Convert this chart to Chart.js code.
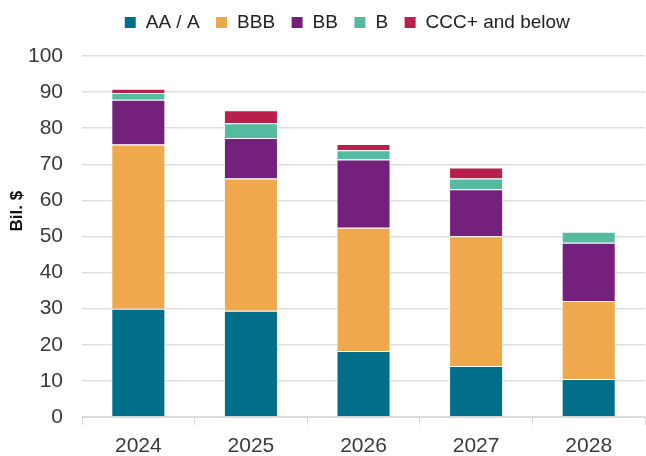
<!DOCTYPE html>
<html>
<head>
<meta charset="utf-8">
<script src="https://cdn.jsdelivr.net/npm/chart.js@4/dist/chart.umd.min.js"></script>
<style>
  html, body { margin: 0; padding: 0; background: #fff; }
  #wrap { width: 646px; height: 456px; }
</style>
</head>
<body>
<div id="wrap"><canvas id="ratingChart"></canvas></div>
<script>
var years = ["2024", "2025", "2026", "2027", "2028"];
var aaValues = [30.0, 29.4, 18.3, 14.1, 10.5];
var bbbValues = [45.5, 36.7, 34.1, 36.0, 21.6];
var bbValues = [12.4, 11.2, 18.9, 13.0, 16.2];
var bValues = [1.85, 4.1, 2.6, 3.0, 3.0];
var cccValues = [1.15, 3.6, 1.7, 3.0, 0];
var yTitle = "Bil. $";

Chart.defaults.font.family = "'Liberation Sans', Arial, sans-serif";
Chart.defaults.font.size = 21;
Chart.defaults.color = "#3a3a3a";

function series(label, data, color) {
	return {
		label: label,
		data: data,
		backgroundColor: color,
		borderColor: "#ffffff",
		borderWidth: 1,
		barPercentage: 0.48,
		categoryPercentage: 1
	};
}

// legend: extra space below it, nudged right; y title sits a bit above middle
var tweaks = {
	id: "tweaks",
	beforeInit: function(chart) {
		var fit = chart.legend.fit;
		chart.legend.fit = function() {
			fit.bind(chart.legend)();
			this.height += 14;
		};
	},
	afterLayout: function(chart) {
		chart.legend.left += 20;
		chart.legend.right += 20;
	},
	afterDraw: function(chart) {
		var ctx = chart.ctx;
		var area = chart.chartArea;
		ctx.save();
		ctx.translate(17.5, area.top + (area.bottom - area.top) * 0.43);
		ctx.rotate(-Math.PI / 2);
		ctx.font = "bold 17px 'Liberation Sans', Arial, sans-serif";
		ctx.fillStyle = "#111111";
		ctx.textAlign = "center";
		ctx.textBaseline = "middle";
		ctx.fillText(yTitle, 0, 0);
		ctx.restore();
	}
};

var ratingChart = new Chart(document.getElementById("ratingChart"), {
	type: "bar",
	data: {
		labels: years,
		datasets: [
			series("AA / A", aaValues, "#016e8a"),
			series("BBB", bbbValues, "#f0a84c"),
			series("BB", bbValues, "#76207e"),
			series("B", bValues, "#55bba0"),
			series("CCC+ and below", cccValues, "#b81f4d")
		]
	},
	options: {
		responsive: true,
		maintainAspectRatio: false,
		animation: false,
		layout: { padding: { left: 9, right: 1, top: -3, bottom: -12 } },
		plugins: {
			tooltip: { enabled: false },
			legend: {
				position: "top",
				labels: {
					boxWidth: 12,
					boxHeight: 12,
					padding: 16,
					color: "#222222",
					font: { size: 19 }
				}
			}
		},
		scales: {
			x: {
				stacked: true,
				grid: {
					offset: true,
					drawOnChartArea: false,
					drawTicks: true,
					tickLength: 8,
					color: "#d9d9d9"
				},
				border: { display: true, color: "#d9d9d9" },
				ticks: { padding: 11, font: { size: 21, lineHeight: 1 } }
			},
			y: {
				stacked: true,
				min: 0,
				max: 100,
				ticks: { stepSize: 10, padding: 19 },
				grid: { color: "#dedede", lineWidth: 1.5, drawTicks: false },
				border: { display: false }
			}
		}
	},
	plugins: [tweaks]
});
</script>
</body>
</html>
